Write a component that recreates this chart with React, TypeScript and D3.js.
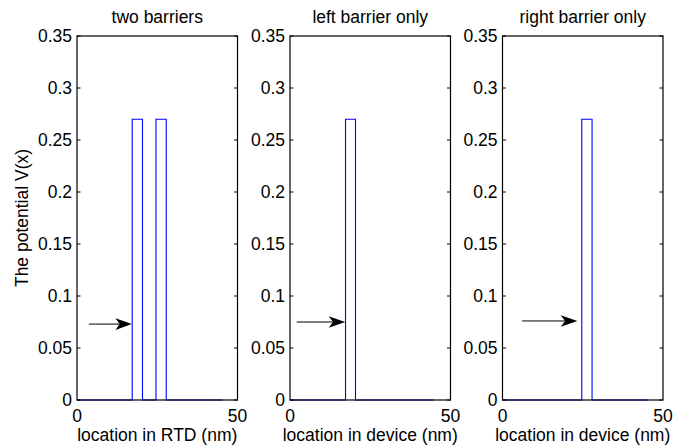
import React from 'react';
import * as d3 from 'd3';

// panel titles / axis labels
const titles = ['two barriers', 'left barrier only', 'right barrier only'];
const xLabels = ['location in RTD (nm)', 'location in device (nm)', 'location in device (nm)'];
const yTicks = [0, 0.05, 0.1, 0.15, 0.2, 0.25, 0.3, 0.35];
const xTicks = [0, 50];

// potential profiles (nm, eV)
const twoX = [0, 17.2, 17.2, 20.4, 20.4, 24.6, 24.6, 27.8, 27.8, 45.3];
const twoV = [0, 0, 0.27, 0.27, 0, 0, 0.27, 0.27, 0, 0];
const leftX = [0, 17.3, 17.3, 20.4, 20.4, 44.8];
const leftV = [0, 0, 0.27, 0.27, 0, 0];
const rightX = [0, 24.7, 24.7, 27.9, 27.9, 45.4];
const rightV = [0, 0, 0.27, 0.27, 0, 0];

// incoming-wave arrows [x0, x1, y]
const arrowTwo = [3.7, 17.1, 0.073];
const arrowLeft = [2.1, 17.2, 0.075];
const arrowRight = [6.1, 23.3, 0.076];

const profiles = [
  { xs: twoX, vs: twoV, arrow: arrowTwo },
  { xs: leftX, vs: leftV, arrow: arrowLeft },
  { xs: rightX, vs: rightV, arrow: arrowRight },
];

const panelLeft = [77, 290, 502.5];
const panelW = 160.5;
const top = 36;
const bottom = 400;
const font = 'Liberation Sans, Arial, Helvetica, sans-serif';
const fs = 17.5;

const Panel = ({ i }: { i: number }) => {
  const p = profiles[i];
  const x = d3.scaleLinear().domain([0, 50]).range([panelLeft[i], panelLeft[i] + panelW]);
  const y = d3.scaleLinear().domain([0, 0.35]).range([bottom, top]);
  const line = d3.line<number>()
    .x((d, k) => x(p.xs[k]))
    .y(d => y(d));

  const [a0, a1, ay] = p.arrow;
  const tx = x(a1), ty = y(ay);
  const L = 16.5, W = 5.8;
  const head = `M${tx},${ty} L${tx - L},${ty - W} L${tx - L * 0.74},${ty} L${tx - L},${ty + W} Z`;

  const x0 = x.range()[0], x1 = x.range()[1];
  return (
    <g>
      <text x={(x0 + x1) / 2} y={23} textAnchor="middle" fontSize={fs} fontFamily={font}>{titles[i]}</text>
      <path d={line(p.vs) || ''} fill="none" stroke="#0000ff" strokeWidth={1.1} />
      {/* box */}
      <rect x={x0} y={top} width={x1 - x0} height={bottom - top} fill="none" stroke="#000" strokeWidth={1.2} />
      {yTicks.map(t => (
        <g key={t}>
          <line x1={x0} x2={x0 + 3.5} y1={y(t)} y2={y(t)} stroke="#000" />
          <line x1={x1} x2={x1 - 3.5} y1={y(t)} y2={y(t)} stroke="#000" />
          <text x={x0 - 5} y={y(t)} dy="0.36em" textAnchor="end" fontSize={fs} fontFamily={font}>{t}</text>
        </g>
      ))}
      {xTicks.map(t => (
        <text key={t} x={x(t)} y={422} textAnchor="middle" fontSize={fs} fontFamily={font}>{t}</text>
      ))}
      <text x={(x0 + x1) / 2} y={441} textAnchor="middle" fontSize={fs} fontFamily={font}>{xLabels[i]}</text>
      <line x1={x(a0)} x2={tx - L * 0.74} y1={ty} y2={ty} stroke="#000" strokeWidth={1} />
      <path d={head} fill="#000" />
    </g>
  );
};

export default function App() {
  return (
    <svg width={674} height={448} style={{ position: 'absolute', left: 0, top: 0, background: '#fff' }}>
      <rect width={674} height={448} fill="#fff" />
      <text transform={`translate(28,${(top + bottom) / 2}) rotate(-90)`} textAnchor="middle" fontSize={fs} fontFamily={font}>
        The potential V(x)
      </text>
      {[0, 1, 2].map(i => <Panel key={i} i={i} />)}
    </svg>
  );
}
